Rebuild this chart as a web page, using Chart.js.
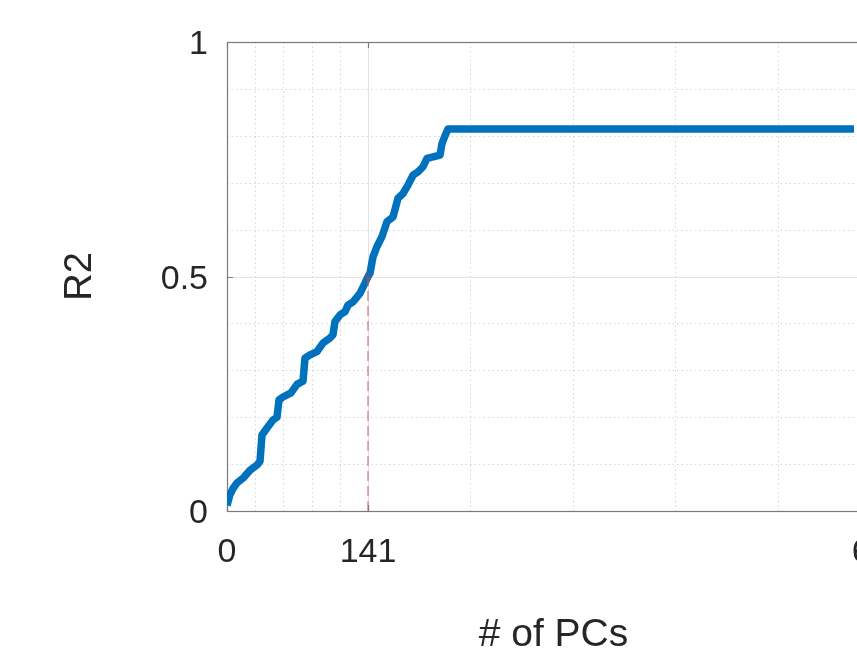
<!DOCTYPE html>
<html>
<head>
<meta charset="utf-8">
<title>R2 vs # of PCs</title>
<script src="https://cdn.jsdelivr.net/npm/chart.js@4/dist/chart.umd.min.js"></script>
<style>
  html, body { margin: 0; padding: 0; background: #fff; overflow: hidden; }
  #wrap { width: 1000px; height: 655px; }
</style>
</head>
<body>
<div id="wrap"><canvas id="chart" width="1000" height="655"></canvas></div>
<script>
// ---- data ----
const pcs = [0, 3, 6, 10, 16, 23, 30, 33, 35, 40, 46, 50, 52, 56, 64, 70, 76, 78, 83, 90,
  96, 103, 106, 108, 113, 118, 121, 126, 133, 138, 141, 143, 146, 150, 155, 160, 166, 171,
  176, 181, 186, 191, 196, 200, 206, 213, 215, 218, 221, 627];
const r2 = [0.012, 0.035, 0.048, 0.06, 0.07, 0.087, 0.098, 0.106, 0.162, 0.177, 0.194, 0.2,
  0.237, 0.243, 0.252, 0.27, 0.277, 0.326, 0.333, 0.34, 0.358, 0.369, 0.376, 0.404, 0.418,
  0.425, 0.439, 0.446, 0.464, 0.486, 0.5, 0.507, 0.542, 0.564, 0.585, 0.617, 0.627, 0.667,
  0.677, 0.695, 0.716, 0.723, 0.734, 0.752, 0.755, 0.759, 0.784, 0.8, 0.8145, 0.8145];

const cutX = [141, 141];
const cutY = [0, 0.5];

const xTicks = [0, 141, 653];
const xMinor = [28.2, 56.4, 84.6, 112.8, 243.4, 345.8, 448.2, 550.6];
const yTicks = [0, 0.5, 1];
const yMinor = [0.1, 0.2, 0.3, 0.4, 0.6, 0.7, 0.8, 0.9];

const FONT = "'Liberation Sans', Helvetica, Arial, sans-serif";
const TEXT = '#262626';

// MATLAB-ish grid, box and tick marks drawn under the data
const matlabAxes = {
  id: 'matlabAxes',
  beforeDatasetsDraw(chart) {
    const { ctx, chartArea: a, scales: { x, y } } = chart;
    ctx.save();

    // minor dotted grid
    ctx.strokeStyle = 'rgba(0,0,0,0.16)';
    ctx.lineWidth = 1;
    ctx.setLineDash([1.5, 3]);
    ctx.beginPath();
    xMinor.forEach(v => {
      const px = Math.round(x.getPixelForValue(v)) + 0.5;
      ctx.moveTo(px, a.top); ctx.lineTo(px, a.bottom);
    });
    yMinor.forEach(v => {
      const py = Math.round(y.getPixelForValue(v)) + 0.5;
      ctx.moveTo(a.left, py); ctx.lineTo(a.right, py);
    });
    ctx.stroke();

    // major solid grid
    ctx.setLineDash([]);
    ctx.strokeStyle = '#e3e3e3';
    ctx.beginPath();
    xTicks.slice(1, -1).forEach(v => {
      const px = Math.round(x.getPixelForValue(v)) + 0.5;
      ctx.moveTo(px, a.top); ctx.lineTo(px, a.bottom);
    });
    yTicks.slice(1, -1).forEach(v => {
      const py = Math.round(y.getPixelForValue(v)) + 0.5;
      ctx.moveTo(a.left, py); ctx.lineTo(a.right, py);
    });
    ctx.stroke();

    // box
    ctx.strokeStyle = '#7a7a7a';
    ctx.lineWidth = 1.2;
    ctx.strokeRect(a.left + 0.5, a.top + 0.5, a.right - a.left, a.bottom - a.top);

    // tick marks (inward)
    const len = 6;
    ctx.beginPath();
    xTicks.forEach(v => {
      const px = Math.round(x.getPixelForValue(v)) + 0.5;
      ctx.moveTo(px, a.top); ctx.lineTo(px, a.top + len);
      ctx.moveTo(px, a.bottom); ctx.lineTo(px, a.bottom - len);
    });
    yTicks.forEach(v => {
      const py = Math.round(y.getPixelForValue(v)) + 0.5;
      ctx.moveTo(a.left, py); ctx.lineTo(a.left + len, py);
      ctx.moveTo(a.right, py); ctx.lineTo(a.right - len, py);
    });
    ctx.stroke();
    ctx.restore();
  }
};

new Chart(document.getElementById('chart'), {
  type: 'line',
  data: {
    datasets: [
      {
        data: cutX.map((v, i) => ({ x: v, y: cutY[i] })),
        borderColor: 'rgba(225,80,80,0.65)',
        borderWidth: 1.5,
        borderDash: [10, 5],
        pointRadius: [0, 2.5],
        pointBackgroundColor: 'rgba(0,0,0,0)',
        pointBorderColor: 'rgba(200,50,60,0.8)',
        pointBorderWidth: 1,
        order: 0
      },
      {
        data: pcs.map((v, i) => ({ x: v, y: r2[i] })),
        borderColor: '#0072BD',
        borderWidth: 7.5,
        borderJoinStyle: 'round',
        borderCapStyle: 'butt',
        pointRadius: 0,
        tension: 0,
        order: 1
      }
    ]
  },
  options: {
    responsive: false,
    animation: false,
    layout: { padding: { top: 42, right: 120, left: 0, bottom: 0 } },
    plugins: { legend: { display: false }, tooltip: { enabled: false } },
    scales: {
      x: {
        type: 'linear',
        min: 0,
        max: 653,
        grid: { display: false },
        border: { display: false },
        afterBuildTicks: s => { s.ticks = xTicks.map(v => ({ value: v })); },
        afterFit: s => { s.height = 144; s.paddingLeft = 0; s.paddingRight = 0; },
        ticks: {
          autoSkip: false,
          maxRotation: 0,
          padding: 13,
          color: TEXT,
          font: { family: FONT, size: 34 },
          callback: v => String(v)
        },
        title: {
          display: true,
          text: '# of PCs',
          color: TEXT,
          font: { family: FONT, size: 39, lineHeight: 1 },
          padding: { top: 0, bottom: 0 }
        }
      },
      y: {
        min: 0,
        max: 1,
        grid: { display: false },
        border: { display: false },
        afterBuildTicks: s => { s.ticks = yTicks.map(v => ({ value: v })); },
        afterFit: s => { s.width = 227; s.paddingTop = 0; s.paddingBottom = 0; },
        ticks: {
          autoSkip: false,
          padding: 11,
          labelOffset: 3,
          color: TEXT,
          font: { family: FONT, size: 34 },
          callback: v => String(v)
        },
        title: {
          display: true,
          text: 'R2',
          color: TEXT,
          font: { family: FONT, size: 38, lineHeight: 1 },
          padding: { top: 62, bottom: 0 }
        }
      }
    }
  },
  plugins: [matlabAxes]
});
</script>
</body>
</html>
